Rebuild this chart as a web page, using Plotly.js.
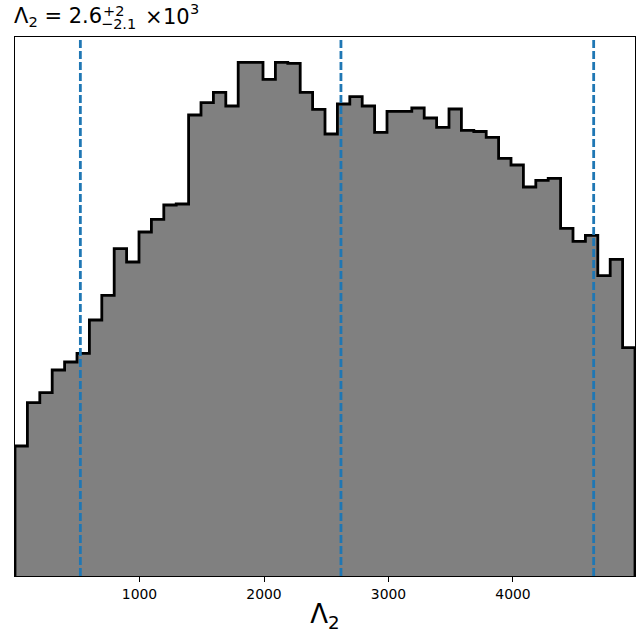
<!DOCTYPE html>
<html>
<head>
<meta charset="utf-8">
<script src="https://cdn.plot.ly/plotly-3.0.1.min.js"></script>
<style>html,body{margin:0;padding:0;background:#fff;}#chart{width:644px;height:641px;}</style>
</head>
<body>
<div id="chart"></div>
<script>
// Histogram of Lambda_2 posterior samples (50 equal bins), heights
const xMin = 0;
const xMax = 4980;
const nBins = 50;
const counts = [
  130, 173.3, 183.3, 206, 214, 222.7, 256, 280.7, 327.3, 314,
  344, 356.7, 371, 372, 461, 473.3, 483.7, 470, 513.7, 513.7,
  496.7, 513.7, 512.7, 483.7, 466.7, 442, 472, 479.3, 470, 443.7,
  464.7, 464.7, 468, 458, 448.7, 467, 445.7, 444.5, 438.7, 417.7,
  411, 389, 395.7, 397.7, 347.7, 334.7, 340.7, 300.3, 316.7, 228.3
];
// quantile lines: 5%, median, 95%
const quantiles = [525, 2618, 4648];
const tickVals = [1000, 2000, 3000, 4000];
const tickText = ["1000", "2000", "3000", "4000"];

const binW = (xMax - xMin) / nBins;
const edges = [];
for (let i = 0; i <= nBins; i++) edges.push(xMin + i * binW);

const xs = [edges[0]], ys = [0];
for (let i = 0; i < nBins; i++) { xs.push(edges[i]); ys.push(counts[i]); }
xs.push(edges[nBins]); ys.push(counts[nBins - 1]);
xs.push(edges[nBins]); ys.push(0);

const yTop = 539;

const trace = {
  x: xs, y: ys, type: 'scatter', mode: 'lines',
  line: {shape: 'hv', color: '#000000', width: 2.8},
  fill: 'tozeroy', fillcolor: '#808080',
  hoverinfo: 'skip', showlegend: false
};

const shapes = quantiles.map(q => ({
  type: 'line', xref: 'x', yref: 'paper', x0: q, x1: q, y0: 0, y1: 1,
  line: {color: '#1f77b4', width: 2.8, dash: '8px,3px'}, layer: 'above'
}));

// pixel helpers for title pieces (plot area: left 15, width 620, top 37, height 539)
const PL = 15, PW = 620, PT = 37, PH = 539;
const px = p => (p - PL) / PW;
const py = p => 1 + (PT - p) / PH;
const fam = 'DejaVu Sans, sans-serif';
const ann = (text, x, y, size) => ({text: text, x: px(x), y: py(y), xref: 'paper', yref: 'paper',
  xanchor: 'left', yanchor: 'middle', showarrow: false, font: {family: fam, size: size, color: '#000'}});
const annotations = [
  ann('Λ<sub>2</sub> = 2.6', 12, 17, 21),
  ann('+2', 101, 11, 14.5),
  ann('−2.1', 99, 24.5, 14.5),
  ann('×', 143, 17, 21),
  ann('10', 161, 17, 21),
  ann('3', 188, 9, 14.5)
];

const layout = {
  width: 644, height: 641,
  margin: {l: 15, r: 9, t: 37, b: 65},
  paper_bgcolor: '#ffffff', plot_bgcolor: '#ffffff',
  font: {family: fam, color: '#000000'},
  showlegend: false,
  xaxis: {
    range: [xMin, xMax], tickvals: tickVals, ticktext: tickText,
    ticks: 'outside', ticklen: 5, tickwidth: 1, tickcolor: '#000',
    tickfont: {family: fam, size: 13.9, color: '#000'},
    showline: true, mirror: true, linecolor: '#000', linewidth: 1.2,
    showgrid: false, zeroline: false,
    title: {text: 'Λ<sub>2</sub>', font: {family: fam, size: 26, color: '#000'}, standoff: 4}
  },
  yaxis: {
    range: [0, yTop], showticklabels: false, ticks: '',
    showline: true, mirror: true, linecolor: '#000', linewidth: 1.2,
    showgrid: false, zeroline: false
  },
  shapes: shapes,
  annotations: annotations
};

Plotly.newPlot('chart', [trace], layout, {displayModeBar: false, staticPlot: true});
</script>
</body>
</html>
